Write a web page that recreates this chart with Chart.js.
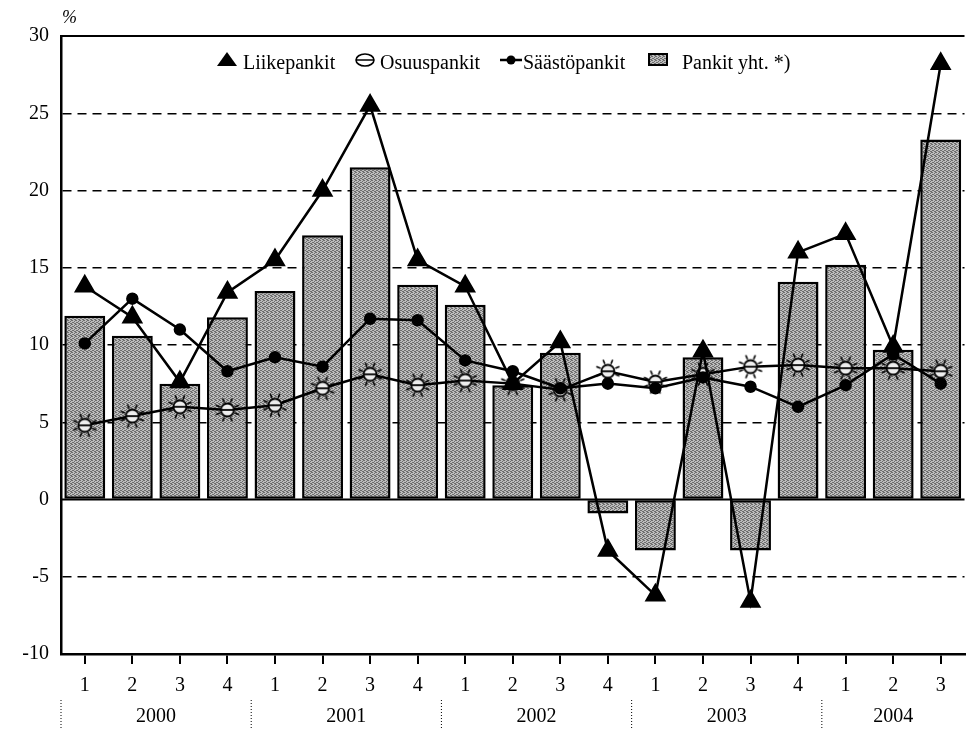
<!DOCTYPE html>
<html>
<head>
<meta charset="utf-8">
<script src="https://cdn.jsdelivr.net/npm/chart.js@4.4.1/dist/chart.umd.min.js"></script>
<style>
  html, body { margin: 0; padding: 0; background: #fff; overflow: hidden; }
  #wrap { width: 977px; height: 729px; }
</style>
</head>
<body>
<div id="wrap"><canvas id="myChart" width="977" height="729"></canvas></div>
<script>
// quarters 2000Q1 .. 2004Q3
const quarters = ['1', '2', '3', '4', '1', '2', '3', '4', '1', '2', '3', '4', '1', '2', '3', '4', '1', '2', '3'];
const years = ['2000', '2001', '2002', '2003', '2004'];
const quartersPerYear = [4, 4, 4, 4, 3];

const pankitYht = [11.9, 10.6, 7.5, 11.8, 13.5, 17.1, 21.5, 13.9, 12.6, 7.4, 9.5, -0.9, -3.3, 9.2, -3.3, 14.1, 15.2, 9.7, 23.3];
const liikepankit = [13.8, 11.8, 7.6, 13.4, 15.5, 20.0, 25.5, 15.5, 13.8, 7.5, 10.2, -3.3, -6.2, 9.6, -6.6, 16.0, 17.2, 9.9, 28.2];
const osuuspankit = [4.8, 5.4, 6.0, 5.8, 6.1, 7.2, 8.1, 7.4, 7.7, 7.5, 7.1, 8.3, 7.6, 8.1, 8.6, 8.7, 8.5, 8.5, 8.3];
const saastopankit = [10.1, 13.0, 11.0, 8.3, 9.2, 8.6, 11.7, 11.6, 9.0, 8.3, 7.2, 7.5, 7.2, 7.9, 7.3, 6.0, 7.4, 9.4, 7.5];

const serif = '"Liberation Serif", "DejaVu Serif", serif';
const ctx = document.getElementById('myChart').getContext('2d');

// grey stippled fill for the bars
function stipple() {
  const c = document.createElement('canvas');
  c.width = 4; c.height = 4;
  const g = c.getContext('2d');
  g.fillStyle = '#bdbdbd';
  g.fillRect(0, 0, 4, 4);
  g.fillStyle = '#6e6e6e';
  [[0, 0], [2, 1], [1, 2], [3, 3], [2, 3], [0, 2], [3, 0]].forEach(p => g.fillRect(p[0], p[1], 1, 1));
  return ctx.createPattern(c, 'repeat');
}

// the "sun" marker of Osuuspankit
function sunMarker() {
  const s = 30, m = s / 2;
  const c = document.createElement('canvas');
  c.width = s; c.height = s;
  const g = c.getContext('2d');
  g.strokeStyle = '#000';
  g.lineWidth = 1.6;
  for (let k = 0; k < 8; k++) {
    const a = k * Math.PI / 4 + Math.PI / 8;
    g.beginPath();
    g.moveTo(m + Math.cos(a) * 8, m + Math.sin(a) * 8);
    g.lineTo(m + Math.cos(a) * 12.5, m + Math.sin(a) * 12.5);
    g.stroke();
  }
  g.beginPath();
  g.arc(m, m, 6.5, 0, Math.PI * 2);
  g.fillStyle = '#eeeeee';
  g.fill();
  g.lineWidth = 1.8;
  g.stroke();
  g.beginPath();
  g.moveTo(m - 6.5, m);
  g.lineTo(m + 6.5, m);
  g.stroke();
  return c;
}

const barFill = stipple();

const decor = {
  id: 'decor',
  beforeDatasetsDraw(chart) {
    const { ctx, chartArea: a, scales: { y } } = chart;
    ctx.save();
    ctx.strokeStyle = '#000';
    ctx.lineWidth = 2;
    ctx.beginPath();
    ctx.moveTo(a.left, y.getPixelForValue(0));
    ctx.lineTo(a.right, y.getPixelForValue(0));
    ctx.moveTo(a.left, a.top);
    ctx.lineTo(a.right, a.top);
    ctx.stroke();
    ctx.restore();
  },
  afterDraw(chart) {
    const { ctx, scales: { x } } = chart;
    ctx.save();
    // % sign
    ctx.fillStyle = '#000';
    ctx.font = 'italic 18px ' + serif;
    ctx.textAlign = 'left';
    ctx.textBaseline = 'alphabetic';
    ctx.fillText('%', 62, 23);

    // years and separators
    const step = x.getPixelForValue(1) - x.getPixelForValue(0);
    ctx.font = '20px ' + serif;
    ctx.textAlign = 'center';
    let s = 0;
    years.forEach((yr, j) => {
      const e = s + quartersPerYear[j] - 1;
      const cx = (x.getPixelForValue(s) + x.getPixelForValue(e)) / 2;
      ctx.fillText(yr, cx, 722);
      const sx = x.getPixelForValue(s) - step / 2;
      ctx.setLineDash([1, 2]);
      ctx.lineWidth = 1;
      ctx.beginPath();
      ctx.moveTo(sx, 700);
      ctx.lineTo(sx, 729);
      ctx.stroke();
      s = e + 1;
    });
    ctx.setLineDash([]);

    // legend
    ctx.textAlign = 'left';
    ctx.font = '20px ' + serif;
    ctx.fillStyle = '#000';
    ctx.beginPath();
    ctx.moveTo(227, 52);
    ctx.lineTo(237, 66);
    ctx.lineTo(217, 66);
    ctx.closePath();
    ctx.fill();
    ctx.fillText('Liikepankit', 243, 69);
    ctx.lineWidth = 1.6;
    ctx.beginPath();
    ctx.ellipse(365, 60, 9, 6, 0, 0, Math.PI * 2);
    ctx.moveTo(356, 60);
    ctx.lineTo(374, 60);
    ctx.stroke();
    ctx.fillText('Osuuspankit', 380, 69);
    ctx.lineWidth = 2.5;
    ctx.beginPath();
    ctx.moveTo(500, 60);
    ctx.lineTo(522, 60);
    ctx.stroke();
    ctx.beginPath();
    ctx.arc(511, 60, 4.5, 0, Math.PI * 2);
    ctx.fill();
    ctx.fillText('Säästöpankit', 523, 69);
    ctx.fillStyle = barFill;
    ctx.fillRect(649, 54, 18, 11);
    ctx.lineWidth = 2;
    ctx.strokeRect(649, 54, 18, 11);
    ctx.fillStyle = '#000';
    ctx.fillText('Pankit yht. *)', 682, 69);
    ctx.restore();
  }
};

new Chart(ctx, {
  data: {
    labels: quarters,
    datasets: [{
      type: 'line',
      label: 'Liikepankit',
      data: liikepankit,
      borderColor: '#000',
      backgroundColor: '#000',
      borderWidth: 2.5,
      pointStyle: 'triangle',
      pointRadius: 10,
      pointBackgroundColor: '#000',
      pointBorderColor: '#000',
      tension: 0,
      order: 1
    }, {
      type: 'line',
      label: 'Osuuspankit',
      data: osuuspankit,
      borderColor: '#000',
      borderWidth: 2.5,
      pointStyle: sunMarker(),
      tension: 0,
      order: 3
    }, {
      type: 'line',
      label: 'Säästöpankit',
      data: saastopankit,
      borderColor: '#000',
      backgroundColor: '#000',
      borderWidth: 2.5,
      pointStyle: 'circle',
      pointRadius: 5,
      pointBackgroundColor: '#000',
      tension: 0,
      order: 2
    }, {
      type: 'bar',
      label: 'Pankit yht. *)',
      data: pankitYht,
      backgroundColor: barFill,
      borderColor: '#000',
      borderWidth: 2.5,
      borderSkipped: false,
      barPercentage: 0.86,
      categoryPercentage: 1.0,
      order: 4
    }]
  },
  options: {
    responsive: false,
    animation: false,
    layout: { padding: { top: 36, left: 0, right: 0, bottom: 0 } },
    plugins: {
      legend: { display: false },
      tooltip: { enabled: false }
    },
    scales: {
      x: {
        offset: true,
        afterFit: s => { s.height = 75; },
        grid: {
          offset: false,
          drawOnChartArea: false,
          drawTicks: true,
          tickLength: 10,
          color: '#000',
          lineWidth: 2
        },
        border: { display: true, color: '#000', width: 2.5 },
        ticks: {
          autoSkip: false,
          maxRotation: 0,
          padding: 10,
          color: '#000',
          font: { family: serif, size: 20 }
        }
      },
      y: {
        min: -10,
        max: 30,
        afterFit: s => { s.width = 61; },
        grid: {
          drawTicks: false,
          color: c => ([0, 30, -10].includes(c.tick.value) ? 'rgba(0,0,0,0)' : '#000'),
          lineWidth: 1.5
        },
        border: { display: true, color: '#000', width: 2.5, dash: [9, 6] },
        ticks: {
          stepSize: 5,
          padding: 12,
          color: '#000',
          font: { family: serif, size: 20 }
        }
      }
    }
  },
  plugins: [decor]
});
</script>
</body>
</html>
